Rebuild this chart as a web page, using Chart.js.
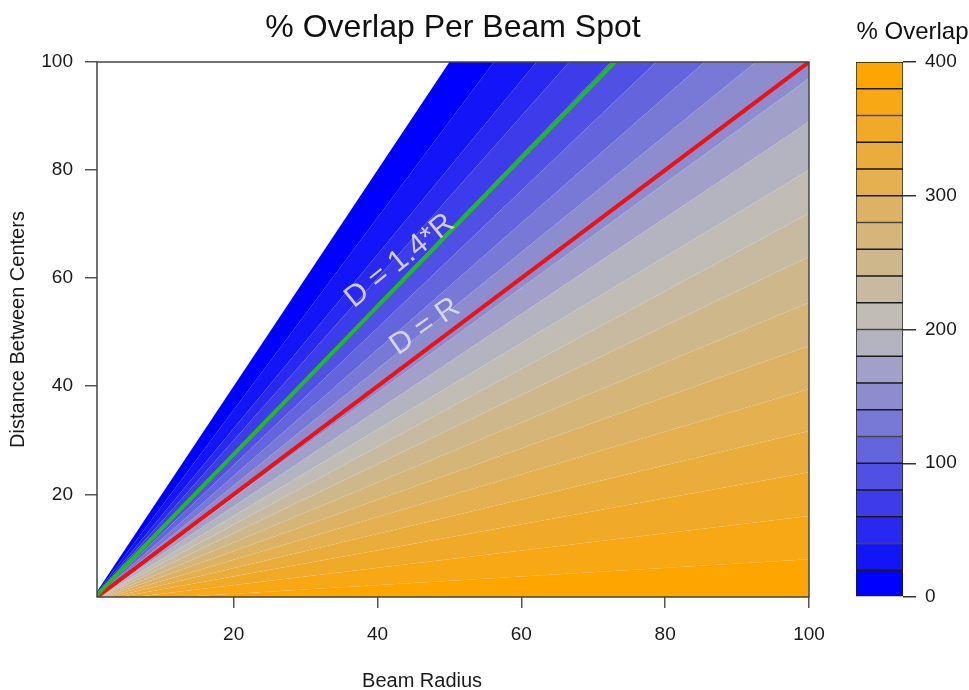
<!DOCTYPE html>
<html>
<head>
<meta charset="utf-8">
<title>% Overlap Per Beam Spot</title>
<script src="https://cdn.jsdelivr.net/npm/chart.js@4.4.1/dist/chart.umd.min.js"></script>
<style>
  html, body { margin: 0; padding: 0; background: #fff; overflow: hidden; }
  #wrap { position: relative; width: 969px; height: 690px; }
  #overlapChart { position: absolute; left: 0; top: 0; }
  #legendChart { position: absolute; left: 847px; top: 0; }
</style>
</head>
<body>
<div id="wrap">
  <canvas id="overlapChart" width="906" height="690"></canvas>
  <canvas id="legendChart" width="122" height="690"></canvas>
</div>
<script>
// contour levels (% overlap)
const levels = [0, 20, 40, 60, 80, 100, 120, 140, 160, 180, 200,
                220, 240, 260, 280, 300, 320, 340, 360, 380, 400];
// D/R ratio where each level line runs
const levelRatio = [2.00, 1.78, 1.61, 1.50, 1.38, 1.27, 1.17, 1.08, 0.97, 0.89, 0.80,
                    0.72, 0.64, 0.555, 0.475, 0.395, 0.317, 0.241, 0.160, 0.080, 0.0];

// reference lines D = k*R
const refNames = ["D = 1.4*R", "D = R"];
const refRatios = [1.37, 1.0];

const axisMin = 1;
const axisMax = 100;
const xTicks = [20, 40, 60, 80, 100];
const yTicks = [20, 40, 60, 80, 100];
const barTicks = [0, 100, 200, 300, 400];

// colours (blue -> gray -> orange)
const bandColors = [
  "rgb(0,0,255)", "rgb(20,20,248)", "rgb(40,40,241)", "rgb(60,60,234)", "rgb(80,80,228)",
  "rgb(100,100,221)", "rgb(120,120,214)", "rgb(140,140,207)", "rgb(160,160,200)", "rgb(180,180,193)",
  "rgb(193,189,180)", "rgb(200,186,160)", "rgb(207,183,140)", "rgb(214,181,120)", "rgb(221,178,100)",
  "rgb(228,176,80)", "rgb(234,173,60)", "rgb(241,170,40)", "rgb(248,168,20)", "rgb(255,165,0)"
];
const refColors = ["#1fbb1f", "#ee1111"];

const FONT = '"Liberation Sans", Arial, Helvetica, sans-serif';
Chart.defaults.font.family = FONT;
Chart.defaults.color = "#1a1a1a";

// where a ray D = t*R leaves the plot box
function rayEnd(t) {
  return t <= 1 ? { x: axisMax, y: axisMax * t } : { x: axisMax / t, y: axisMax };
}

// wedge between two rays from the origin
function bandPoints(tLow, tHigh) {
  const pts = [{ x: 0, y: 0 }, rayEnd(tLow)];
  if (tLow < 1 && tHigh > 1) pts.push({ x: axisMax, y: axisMax });
  pts.push(rayEnd(tHigh));
  pts.push({ x: 0, y: 0 });
  return pts;
}

const bandDatasets = bandColors.map((c, i) => ({
  data: bandPoints(levelRatio[i + 1], levelRatio[i]),
  showLine: true,
  fill: "shape",
  backgroundColor: c,
  borderColor: "transparent",
  borderWidth: 0,
  pointRadius: 0,
  tension: 0,
  order: 1
}));

const refDatasets = refRatios.map((t, i) => ({
  data: [{ x: 0, y: 0 }, rayEnd(t)],
  showLine: true,
  fill: false,
  borderColor: refColors[i],
  borderWidth: 4,
  pointRadius: 0,
  clip: 0,
  order: 0
}));

// labels along the reference lines (data units)
const refLabelPos = [
  { x: 43.1, y: 63.2, angle: 39 },
  { x: 46.6, y: 51.0, angle: 35 }
];

const plotExtras = {
  id: "plotExtras",
  afterDatasetsDraw(chart) {
    const { ctx, chartArea: a, scales: { x, y } } = chart;

    ctx.save();
    ctx.beginPath();
    ctx.rect(a.left, a.top, a.width, a.height);
    ctx.clip();
    ctx.font = "30px " + FONT;
    ctx.fillStyle = "rgba(222,222,226,0.9)";
    ctx.textAlign = "center";
    ctx.textBaseline = "middle";
    refLabelPos.forEach((p, i) => {
      ctx.save();
      ctx.translate(x.getPixelForValue(p.x), y.getPixelForValue(p.y));
      ctx.rotate(-p.angle * Math.PI / 180);
      ctx.fillText(refNames[i], 0, 0);
      ctx.restore();
    });
    ctx.restore();

    // box round the plot
    ctx.save();
    ctx.strokeStyle = "#444";
    ctx.lineWidth = 1.5;
    ctx.strokeRect(a.left, a.top, a.width, a.height);
    ctx.restore();

    // x axis title (sits left of centre in the original)
    ctx.save();
    ctx.font = "20px " + FONT;
    ctx.fillStyle = "#1a1a1a";
    ctx.textAlign = "center";
    ctx.textBaseline = "middle";
    ctx.fillText("Beam Radius", x.getPixelForValue(46.2), chart.height - 9);
    ctx.restore();
  }
};

new Chart(document.getElementById("overlapChart"), {
  type: "scatter",
  data: { datasets: [...refDatasets, ...bandDatasets] },
  options: {
    responsive: false,
    animation: false,
    events: [],
    plugins: {
      legend: { display: false },
      tooltip: { enabled: false },
      title: {
        display: true,
        text: "% Overlap Per Beam Spot",
        color: "#111",
        font: { size: 32, weight: "normal" },
        padding: { top: 9, bottom: 14.6 }
      }
    },
    scales: {
      x: {
        type: "linear",
        min: axisMin,
        max: axisMax,
        afterBuildTicks: s => { s.ticks = xTicks.map(v => ({ value: v })); },
        afterFit: s => { s.height = 93; },
        ticks: { padding: 15, font: { size: 19 }, color: "#1a1a1a" },
        grid: { drawOnChartArea: false, tickLength: 11, color: "#555", lineWidth: 1.5 },
        border: { display: false }
      },
      y: {
        type: "linear",
        min: axisMin,
        max: axisMax,
        afterBuildTicks: s => { s.ticks = yTicks.map(v => ({ value: v })); },
        afterFit: s => { s.width = 97; },
        title: {
          display: true,
          text: "Distance Between Centers",
          font: { size: 20 },
          color: "#1a1a1a",
          padding: { top: 6, bottom: 0 }
        },
        ticks: { padding: 12, font: { size: 19 }, color: "#1a1a1a" },
        grid: { drawOnChartArea: false, tickLength: 12, color: "#555", lineWidth: 1.5 },
        border: { display: false }
      },
      // empty right-hand axis, keeps the title centred over the plot
      y2: {
        type: "linear",
        position: "right",
        min: axisMin,
        max: axisMax,
        ticks: { display: false },
        grid: { display: false },
        border: { display: false },
        afterFit: s => { s.width = 97; }
      }
    }
  },
  plugins: [plotExtras]
});

// colour key
new Chart(document.getElementById("legendChart"), {
  type: "bar",
  data: {
    labels: [""],
    datasets: bandColors.map((c, i) => ({
      data: [[levels[i], levels[i + 1]]],
      backgroundColor: c,
      borderColor: "#1a1a1a",
      borderWidth: 1,
      borderSkipped: false,
      grouped: false,
      barPercentage: 1,
      categoryPercentage: 1
    }))
  },
  options: {
    responsive: false,
    animation: false,
    events: [],
    layout: { padding: { left: 9, bottom: 93 } },
    plugins: {
      legend: { display: false },
      tooltip: { enabled: false },
      title: {
        display: true,
        text: "% Overlap",
        color: "#111",
        font: { size: 24, weight: "normal" },
        padding: { top: 17.6, bottom: 15.6 }
      }
    },
    scales: {
      x: { display: false },
      y: {
        position: "right",
        min: levels[0],
        max: levels[levels.length - 1],
        afterBuildTicks: s => { s.ticks = barTicks.map(v => ({ value: v })); },
        afterFit: s => { s.width = 66; },
        ticks: { padding: 9, font: { size: 19 }, color: "#1a1a1a" },
        grid: { drawOnChartArea: false, tickLength: 13, color: "#333", lineWidth: 1.5 },
        border: { display: false }
      }
    }
  }
});
</script>
</body>
</html>
